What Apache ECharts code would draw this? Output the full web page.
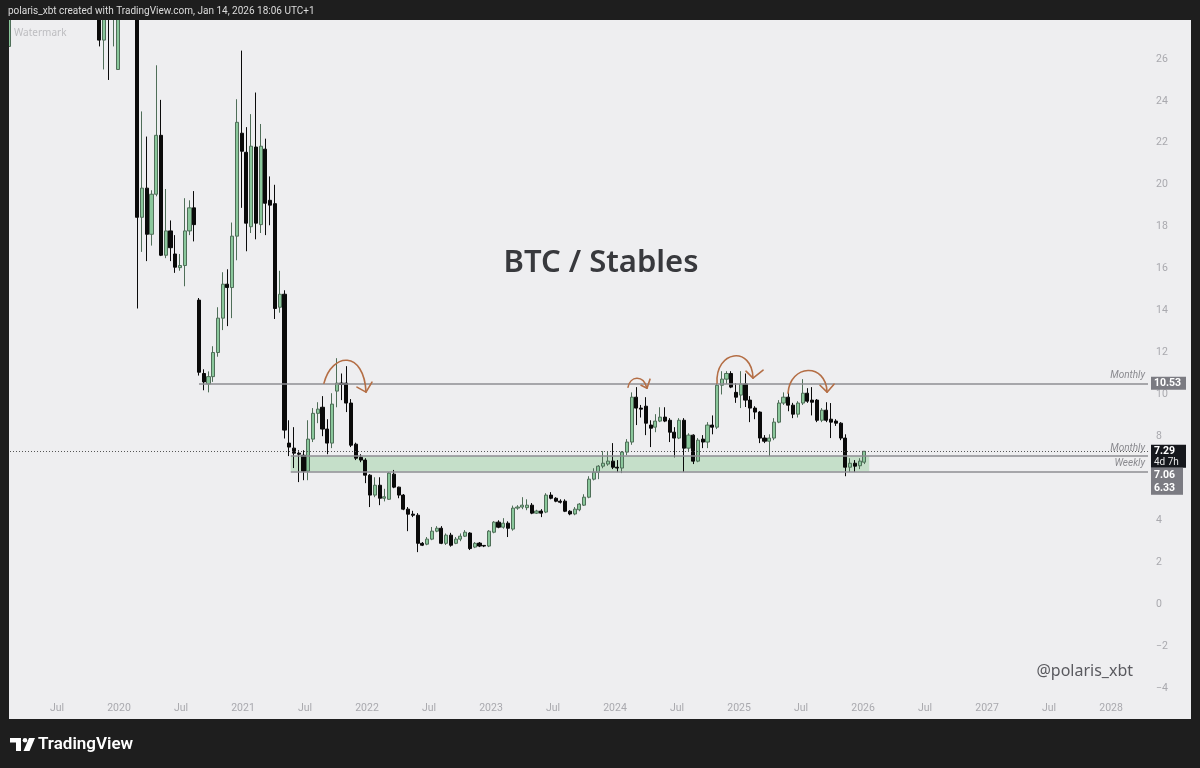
<!DOCTYPE html>
<html>
<head>
<meta charset="utf-8">
<title>BTC / Stables</title>
<script src="https://cdn.jsdelivr.net/npm/echarts@6/dist/echarts.min.js"></script>
<style>
  html, body { margin: 0; padding: 0; background: #1e1e1e; }
  #chart { width: 1200px; height: 768px; }
</style>
</head>
<body>
<div id="chart"></div>
<script>
// 2W candles, the last one opened on Jan 5 2026
const lastCandle = '2026-01-05';
const stepDays = 14;

// [open, high, low, close]
const ohlc = [
  [26.6, 29.6, 26.5, 29.2],
  [29.2, 31.5, 28.8, 31.0], [31.0, 33.0, 30.2, 32.2], [32.2, 34.5, 31.5, 33.8], [33.8, 35.0, 32.0, 32.6],
  [32.6, 34.0, 31.0, 33.5], [33.5, 36.0, 33.0, 35.2], [35.2, 36.5, 33.5, 34.0], [34.0, 35.0, 32.0, 32.5],
  [32.5, 33.5, 30.5, 31.2], [31.2, 32.0, 29.5, 30.4], [30.4, 31.8, 29.6, 31.4], [31.4, 33.0, 30.8, 32.5],
  [32.5, 33.2, 30.6, 31.0], [31.0, 31.6, 29.2, 29.8], [29.8, 31.2, 29.3, 30.8], [30.8, 31.5, 29.4, 29.9],
  [29.9, 30.6, 28.7, 29.4], [29.4, 30.4, 28.6, 29.9],
  // 19
  [29.9, 30.2, 26.6, 26.9], [26.9, 29.6, 25.5, 29.1], [29.1, 30.0, 25.0, 28.5], [28.5, 29.8, 26.6, 29.3],
  [25.5, 30.5, 25.5, 30.0], [30.0, 32.0, 29.0, 31.5], [31.5, 32.5, 29.5, 30.2], [30.2, 31.0, 28.6, 29.2],
  // 27 - march 2020
  [29.2, 29.6, 14.1, 18.45], [18.45, 23.5, 16.8, 19.84], [19.84, 22.3, 16.36, 17.64], [17.64, 19.74, 17.1, 19.55],
  [19.55, 25.7, 19.45, 22.36], [22.36, 24.05, 16.6, 16.64], [16.64, 19.8, 16.5, 17.8], [17.8, 18.3, 16.36, 17.0],
  [16.7, 17.6, 15.8, 16.07], [16.05, 16.7, 15.9, 16.15], [16.15, 19.36, 15.16, 17.8], [17.8, 19.26, 17.6, 18.9],
  [18.9, 19.7, 17.3, 18.1],
  // 40
  [14.5, 14.6, 10.9, 11.06], [11.0, 11.2, 10.2, 10.6], [10.5, 11.1, 10.1, 10.85], [10.85, 12.3, 10.6, 12.0],
  [12.0, 14.16, 11.8, 13.64], [13.64, 15.83, 13.07, 15.26], [15.26, 15.97, 13.26, 15.1], [15.1, 18.2, 13.64, 17.55],
  [17.55, 24.08, 16.4, 22.98], [22.46, 26.4, 18.9, 21.6], [21.55, 22.75, 16.83, 18.17], [18.0, 23.37, 17.7, 21.84],
  [21.8, 24.4, 17.4, 18.17], [18.1, 22.9, 17.7, 21.84], [21.7, 22.2, 17.6, 19.12], [19.26, 20.4, 18.07, 19.03],
  [19.1, 20.0, 13.6, 14.1], [14.16, 15.9, 13.9, 14.78],
  // 58 - may 2021
  [14.78, 14.97, 7.9, 8.3], [7.68, 8.77, 7.06, 7.49], [7.44, 8.44, 6.49, 7.2], [7.2, 7.34, 5.82, 7.15],
  [7.1, 7.34, 5.91, 6.34], [6.34, 8.77, 5.91, 7.87], [7.87, 9.35, 7.73, 9.1], [9.1, 9.63, 8.63, 9.3],
  [9.39, 9.92, 8.01, 8.35], [8.35, 8.82, 7.15, 7.68], [7.68, 10.06, 7.44, 9.54], [10.16, 11.73, 9.39, 10.54],
  [10.54, 11.0, 9.73, 10.48], [10.54, 11.35, 9.16, 9.59], [9.59, 9.78, 7.49, 7.58], [7.63, 7.7, 6.87, 6.96],
  [7.0, 7.15, 6.77, 6.87], [6.87, 6.96, 5.77, 6.15], [6.15, 6.2, 4.63, 5.2], [5.2, 6.05, 5.1, 5.67],
  [5.67, 6.05, 4.72, 5.05], [5.05, 5.5, 4.9, 5.12],
  // 80
  [5.0, 6.3, 4.98, 6.25], [6.2, 6.4, 5.53, 5.58], [5.58, 5.6, 5.05, 5.2], [5.2, 5.25, 4.48, 4.53],
  [4.53, 4.63, 3.48, 4.29], [4.29, 4.45, 4.15, 4.24], [4.24, 4.34, 2.48, 2.9], [2.9, 2.96, 2.77, 2.81],
  [2.86, 3.2, 2.81, 3.1], [3.1, 3.68, 3.05, 3.48], [3.48, 3.72, 3.43, 3.62], [3.62, 3.72, 2.86, 2.9],
  [2.9, 3.37, 2.82, 3.29], [3.29, 3.4, 2.74, 2.81], [2.9, 3.2, 2.86, 3.1], [3.1, 3.37, 3.0, 3.24],
  [3.24, 3.53, 3.2, 3.43], [3.39, 3.43, 2.58, 2.65], [2.72, 2.96, 2.67, 2.9], [2.91, 2.96, 2.72, 2.77],
  // 100
  [2.8, 2.82, 2.72, 2.77], [2.77, 3.53, 2.72, 3.48], [3.43, 3.96, 3.38, 3.91], [3.91, 4.0, 3.62, 3.67],
  [3.67, 4.1, 3.6, 3.86], [3.86, 3.95, 3.2, 3.62], [3.58, 4.7, 3.5, 4.58], [4.58, 4.72, 4.5, 4.63],
  [4.63, 5.1, 4.53, 4.72], [4.6, 5.0, 4.48, 4.72], [4.72, 4.82, 4.29, 4.34], [4.34, 4.5, 4.3, 4.44],
  [4.44, 4.53, 4.15, 4.34], [4.39, 5.29, 4.34, 5.2], [5.2, 5.34, 5.0, 5.05], [5.05, 5.1, 4.86, 4.91],
  [4.91, 5.0, 4.8, 4.86], [4.91, 5.0, 4.39, 4.43], [4.43, 4.48, 4.24, 4.3], [4.3, 4.63, 4.24, 4.53],
  // 120
  [4.5, 4.82, 4.43, 4.77], [4.72, 5.24, 4.68, 5.1], [5.1, 6.1, 5.05, 5.96], [5.96, 6.48, 5.9, 6.29],
  [6.29, 6.63, 5.96, 6.58], [6.58, 7.3, 6.48, 6.72], [6.68, 7.3, 6.6, 6.82], [6.82, 7.68, 6.44, 6.53],
  [6.53, 6.87, 6.3, 6.49], [6.49, 7.3, 6.25, 7.25], [7.25, 7.87, 7.1, 7.73], [7.73, 10.1, 7.6, 9.87],
  [9.87, 10.35, 8.54, 9.35], [9.35, 9.5, 8.9, 9.3], [9.44, 9.87, 8.06, 8.63], [8.54, 8.77, 7.49, 8.39],
  [8.44, 9.06, 8.2, 8.73], [8.73, 9.39, 8.68, 8.92], [8.92, 9.39, 8.68, 8.73], [8.77, 8.87, 7.73, 8.2],
  // 140
  [8.2, 8.44, 7.0, 7.92], [7.92, 8.87, 7.87, 8.77], [8.77, 8.87, 6.3, 7.44], [7.44, 8.15, 7.3, 8.06],
  [8.06, 8.1, 6.68, 6.82], [6.82, 7.92, 6.77, 7.82], [7.87, 8.06, 7.44, 7.73], [7.73, 8.68, 7.44, 8.54],
  [8.54, 9.0, 8.1, 8.44], [8.44, 10.54, 8.35, 10.44], [10.44, 11.11, 10.0, 10.73], [10.73, 11.11, 10.5, 11.0],
  [11.0, 11.11, 10.3, 10.35], [10.1, 10.54, 9.6, 9.87], [9.97, 11.11, 9.35, 10.5], [10.5, 11.0, 9.4, 9.73],
  [9.73, 9.92, 8.68, 9.35], [9.35, 9.44, 8.82, 9.16], [9.16, 9.2, 7.68, 7.92], [7.92, 8.06, 7.68, 7.77],
  // 160
  [7.77, 8.1, 7.06, 7.92], [7.92, 8.87, 7.82, 8.68], [8.68, 9.73, 8.63, 9.59], [9.59, 10.1, 9.5, 9.87],
  [9.87, 10.2, 9.2, 9.49], [9.49, 9.6, 8.87, 9.06], [9.06, 9.68, 8.9, 9.59], [9.59, 10.73, 9.5, 10.06],
  [10.06, 10.3, 9.6, 9.68], [9.73, 10.35, 9.0, 9.63], [9.73, 9.78, 8.68, 8.77], [8.77, 9.35, 8.68, 9.25],
  [9.25, 9.63, 8.68, 8.77], [8.82, 9.59, 7.92, 8.68], [8.73, 8.82, 8.5, 8.63], [8.63, 8.68, 7.82, 7.92],
  [7.92, 8.1, 6.1, 6.53], [6.53, 6.96, 6.3, 6.72], [6.72, 6.87, 6.3, 6.58], [6.6, 6.96, 6.44, 6.82],
  [6.77, 7.3, 6.68, 7.29]
];

// horizontal levels drawn on the chart (x in fractional years)
const levelValues = [10.53, 7.06, 6.33];
const levelStarts = [2020.645, 2021.385, 2021.385];
const levelNames = ['Monthly', 'Monthly', 'Weekly'];
const lastPrice = 7.29;
const countdown = '4d 7h';
const zoneRange = [2021.385, 2026.05];

// hand drawn arrows: bezier [p0, cp1, cp2, p3] and head [wing, tip, wing]
const arrows = [
  { curve: [[2021.653, 10.54], [2021.718, 12.02], [2021.976, 12.11], [2021.992, 10.11]],
    head: [[2021.919, 10.35], [2021.992, 10.11], [2022.040, 10.59]] },
  { curve: [[2024.105, 10.35], [2024.121, 10.87], [2024.226, 10.97], [2024.258, 10.30]],
    head: [[2024.210, 10.44], [2024.258, 10.30], [2024.282, 10.73]] },
  { curve: [[2024.823, 10.54], [2024.806, 12.11], [2025.105, 12.35], [2025.113, 10.78]],
    head: [[2025.056, 11.11], [2025.113, 10.78], [2025.194, 11.16]] },
  { curve: [[2025.395, 10.06], [2025.411, 11.45], [2025.702, 11.54], [2025.710, 10.11]],
    head: [[2025.653, 10.44], [2025.710, 10.11], [2025.766, 10.49]] }
];

const xMin = 2019;
const xMax = 2028.298;
const frame = '#1e1e1e';
const arrowColor = '#b46e45';
const font = 'Roboto, "Noto Sans", sans-serif';

function yearFrac(d) {
  const y = d.getUTCFullYear();
  const a = Date.UTC(y, 0, 1), b = Date.UTC(y + 1, 0, 1);
  return y + (d.getTime() - a) / (b - a);
}
const last = new Date(lastCandle + 'T00:00:00Z').getTime();
const candleData = ohlc.map((r, i) => {
  const t = yearFrac(new Date(last - (ohlc.length - 1 - i) * stepDays * 864e5));
  return [t, r[0], r[3], r[2], r[1]];
});

const levelLines = levelValues.map((v, i) => [
  { coord: [levelStarts[i], v],
    lineStyle: { color: '#8e8e93', width: 1.5, type: 'solid' },
    label: { show: true, position: 'insideEndTop', formatter: levelNames[i], color: '#8a8a8f',
      fontStyle: 'italic', fontSize: 10, fontFamily: font, distance: 3 } },
  { coord: [xMax, v] }
]);
levelLines.push([
  { coord: [xMin, lastPrice], lineStyle: { color: '#555', width: 1, type: [1, 2] }, label: { show: false } },
  { coord: [xMax, lastPrice] }
]);

const chart = echarts.init(document.getElementById('chart'));

const staticGraphics = [
  { id: 'title', type: 'text', x: 601, y: 263, z: 50,
    style: { text: 'BTC / Stables', fill: '#38393d', font: '600 31px "Noto Sans", sans-serif', textAlign: 'center', textVerticalAlign: 'middle' } },
  { id: 'handle', type: 'text', x: 1133, y: 671, z: 50,
    style: { text: '@polaris_xbt', fill: '#5a5a5f', font: '16px "Noto Sans", sans-serif', textAlign: 'right', textVerticalAlign: 'middle' } },
  { id: 'wm', type: 'text', x: 14, y: 33, z: 50,
    style: { text: 'Watermark', fill: '#bdbdc0', font: '10px "Noto Sans", sans-serif', textVerticalAlign: 'middle' } },
  { id: 'fTop', type: 'rect', shape: { x: 0, y: 0, width: 1200, height: 20 }, style: { fill: frame }, z: 100 },
  { id: 'fBot', type: 'rect', shape: { x: 0, y: 719, width: 1200, height: 49 }, style: { fill: frame }, z: 100 },
  { id: 'fL', type: 'rect', shape: { x: 0, y: 0, width: 9, height: 768 }, style: { fill: frame }, z: 100 },
  { id: 'fR', type: 'rect', shape: { x: 1191, y: 0, width: 9, height: 768 }, style: { fill: frame }, z: 100 },
  { id: 'header', type: 'text', x: 8, y: 11, z: 101,
    style: { text: 'polaris_xbt created with TradingView.com, Jan 14, 2026 18:06 UTC+1', fill: '#dcdcdc',
      font: '10px Roboto, sans-serif', textVerticalAlign: 'middle' } },
  { id: 'logo1', type: 'polygon', z: 101, shape: { points: [[10, 738], [21, 738], [21, 751], [16, 751], [16, 742.5], [10, 742.5]] }, style: { fill: '#fff' } },
  { id: 'logo2', type: 'circle', z: 101, shape: { cx: 25, cy: 740.3, r: 2.3 }, style: { fill: '#fff' } },
  { id: 'logo3', type: 'polygon', z: 101, shape: { points: [[29, 738], [35, 738], [29.5, 751], [23.5, 751]] }, style: { fill: '#fff' } },
  { id: 'tvText', type: 'text', x: 38, y: 745, z: 101,
    style: { text: 'TradingView', fill: '#fff', font: '600 17px Roboto, sans-serif', textVerticalAlign: 'middle' } }
];

chart.setOption({
  animation: false,
  backgroundColor: '#eeeef0',
  grid: { left: -5, right: 52, top: 17.06, bottom: 38.07, containLabel: false, outerBoundsMode: 'none' },
  xAxis: {
    type: 'value', min: xMin, max: xMax, interval: 0.5, offset: -32,
    axisLine: { show: false }, axisTick: { show: false }, splitLine: { show: false },
    axisLabel: {
      color: '#a9a9ae', fontSize: 10.5, fontFamily: font, margin: 5,
      formatter: v => {
        if (v <= xMin + 1e-6) return '';
        if (Math.abs(v - Math.round(v)) < 1e-6) return String(Math.round(v));
        if (Math.abs(v - Math.floor(v) - 0.5) < 1e-6) return 'Jul';
        return '';
      }
    }
  },
  yAxis: {
    type: 'value', position: 'right', min: -6, max: 28, interval: 2,
    axisLine: { show: false }, axisTick: { show: false }, splitLine: { show: false },
    axisLabel: {
      color: '#a9a9ae', fontSize: 10.5, fontFamily: font, margin: 8,
      formatter: v => (v >= 28 || v <= -6) ? '' : (v < 0 ? '\u2212' + Math.abs(v) : String(v))
    }
  },
  series: [
    {
      type: 'candlestick',
      data: candleData,
      barWidth: 3.6,
      clip: true,
      itemStyle: { color: '#8ac79b', color0: '#0a0a0a', borderColor: '#4f6e58', borderColor0: '#0a0a0a', borderWidth: 1 },
      markArea: {
        silent: true,
        itemStyle: { color: 'rgba(104, 190, 112, 0.30)' },
        data: [[{ coord: [zoneRange[0], levelValues[1]] }, { coord: [zoneRange[1], levelValues[2]] }]]
      },
      markLine: { silent: true, symbol: 'none', precision: 2, data: levelLines }
    },
    {
      type: 'custom',
      silent: true,
      clip: false,
      z: 6,
      encode: { x: 0, y: 1 },
      data: arrows.map(a => [a.curve[0][0], a.curve[0][1]]),
      renderItem: (params, api) => {
        const a = arrows[params.dataIndex];
        const p = a.curve.map(pt => api.coord(pt));
        const h = a.head.map(pt => api.coord(pt));
        const st = { stroke: arrowColor, lineWidth: 1.6, fill: null, lineCap: 'round', lineJoin: 'round' };
        return {
          type: 'group',
          children: [
            { type: 'bezierCurve', shape: { x1: p[0][0], y1: p[0][1], cpx1: p[1][0], cpy1: p[1][1], cpx2: p[2][0], cpy2: p[2][1], x2: p[3][0], y2: p[3][1] }, style: st },
            { type: 'polyline', shape: { points: h }, style: st }
          ]
        };
      }
    }
  ],
  graphic: { elements: staticGraphics }
});

// price tags on the price scale
const yAt = v => chart.convertToPixel({ gridIndex: 0 }, [xMax, v])[1];
const tagX = 1151, tagW = 35;
const yTop = yAt(levelValues[0]);
const yLast = yAt(lastPrice);
const tagFont = 'bold 10.5px Roboto, sans-serif';
const tags = [
  { id: 't1', type: 'rect', z: 110, shape: { x: tagX, y: yTop - 6.5, width: tagW, height: 13 }, style: { fill: '#7b7b82' } },
  { id: 't1t', type: 'text', z: 111, x: tagX + 3, y: yTop, style: { text: levelValues[0].toFixed(2), fill: '#fff', font: tagFont, textVerticalAlign: 'middle' } },
  { id: 't2', type: 'rect', z: 110, shape: { x: tagX, y: yLast - 6.5, width: tagW, height: 23 }, style: { fill: '#15171c' } },
  { id: 't2t', type: 'text', z: 111, x: tagX + 3, y: yLast, style: { text: lastPrice.toFixed(2), fill: '#fff', font: tagFont, textVerticalAlign: 'middle' } },
  { id: 't2c', type: 'text', z: 111, x: tagX + 3, y: yLast + 11, style: { text: countdown, fill: '#e8e8e8', font: '10px Roboto, sans-serif', textVerticalAlign: 'middle' } },
  { id: 't3', type: 'rect', z: 110, shape: { x: tagX, y: yLast + 16.5, width: tagW - 3, height: 27 }, style: { fill: '#7b7b82' } },
  { id: 't3a', type: 'text', z: 111, x: tagX + 3, y: yLast + 24, style: { text: levelValues[1].toFixed(2), fill: '#fff', font: tagFont, textVerticalAlign: 'middle' } },
  { id: 't3b', type: 'text', z: 111, x: tagX + 3, y: yLast + 37, style: { text: levelValues[2].toFixed(2), fill: '#fff', font: tagFont, textVerticalAlign: 'middle' } }
];
chart.setOption({ graphic: { elements: tags } });
</script>
</body>
</html>
